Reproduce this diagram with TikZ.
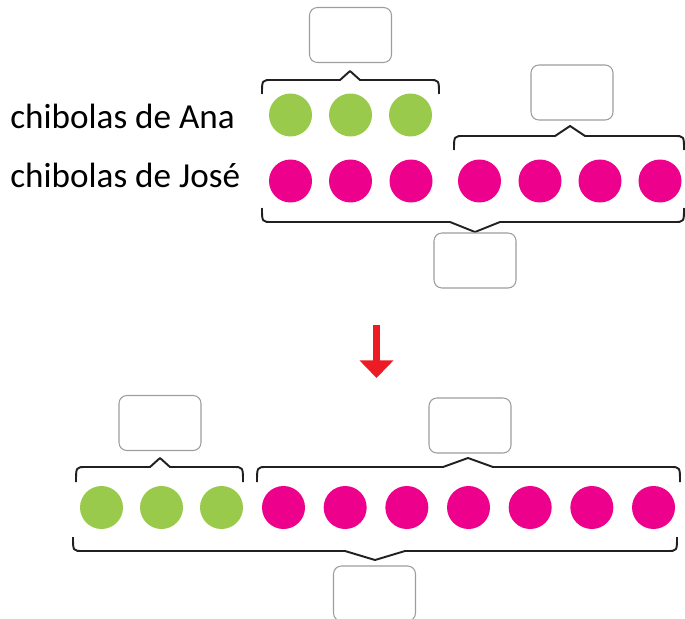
\documentclass[tikz,border=0pt]{standalone}
\usepackage{fontspec}
\setmainfont{Carlito}
\usetikzlibrary{arrows.meta}
\definecolor{verdechibola}{HTML}{99CA4C}
\definecolor{rosachibola}{HTML}{EC008C}
\definecolor{rojoflecha}{HTML}{ED1C24}
\definecolor{grisrecuadro}{HTML}{9D9D9C}
\definecolor{negrollave}{HTML}{231F20}

\begin{document}
\begin{tikzpicture}[x=0.02cm, y=-0.02cm,
	chibola/.style = {circle, minimum size=0.86cm, inner sep=0pt},
	verde/.style = {chibola, fill=verdechibola},
	rosa/.style = {chibola, fill=rosachibola},
	recuadro/.style = {draw=grisrecuadro, line width=0.6pt, rounded corners=4.5pt, minimum width=1.64cm, minimum height=1.1cm, inner sep=0pt},
	llave/.style = {draw=negrollave, line width=1.1pt, line join=round},
	etiqueta/.style = {anchor=base west, inner sep=0pt, font=\fontsize{20}{24}\selectfont}]

\path[use as bounding box, clip] (0,0) rectangle (685,618);

% etiquetas
\node[etiqueta] (textoana) at (10,129) {chibolas de Ana};
\node[etiqueta] (textojose) at (10,187) {chibolas de José};

% fila de arriba
\foreach \i in {1,2,3}
	\node[verde] (ana\i) at ({230.5+60*\i},115) {};
\foreach \i/\x in {1/290.5,2/350.5,3/411,4/479.5,5/540,6/600,7/660}
	\node[rosa] (jose\i) at (\x,181) {};

% fila de abajo
\foreach \i in {1,2,3}
	\node[verde] (juntasana\i) at ({41.5+60*\i},507.5) {};
\foreach \i in {1,...,7}
	\node[rosa] (juntasjose\i) at ({283.5+61.67*(\i-1)},507.5) {};

% llaves: x1/x2/linea/extremo/punta x/punta y/medio ancho
\foreach \xa/\xb/\yl/\ye/\tx/\ty/\d in {262/439/80/94/350/71/10, 454/684/136/150/570/126/15, 262/684/222/208/475/232/25, 76/243/467/482/160/458/10, 257/680/467/482/468/458/25, 73/677/551/537/375/560/30}
	\draw[llave] (\xa,\ye) .. controls (\xa,\yl) .. (\xa+10,\yl) -- (\tx-\d,\yl) -- (\tx,\ty) -- (\tx+\d,\yl) -- (\xb-10,\yl) .. controls (\xb,\yl) .. (\xb,\ye);

% recuadros
\node[recuadro] (caja1) at (350.5,35) {};
\node[recuadro] (caja2) at (572,92.5) {};
\node[recuadro] (caja3) at (475,260.5) {};
\node[recuadro] (caja4) at (160,423) {};
\node[recuadro] (caja5) at (470,425.5) {};
\node[recuadro] (caja6) at (374.5,593.5) {};

% flecha
\coordinate (flechaini) at (376.5,325);
\coordinate (flechafin) at (376.5,378);
\draw[rojoflecha, line width=4pt, -{Triangle[length=10pt, width=18.7pt]}] (flechaini) -- (flechafin);
\end{tikzpicture}
\end{document}
